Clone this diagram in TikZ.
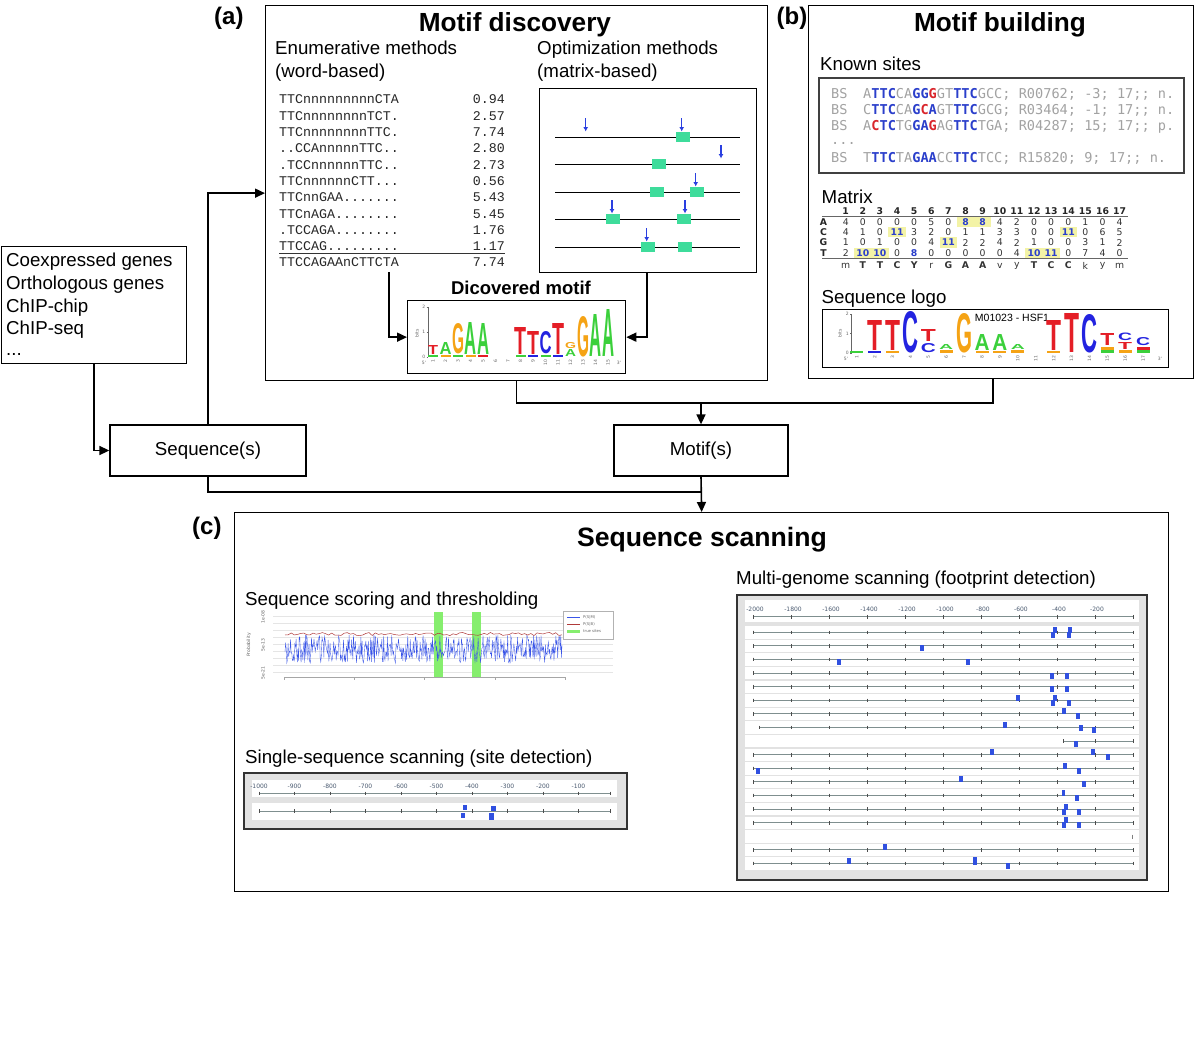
\documentclass[tikz,border=0pt]{standalone}
\usepackage{fontspec}
\setmainfont{Liberation Sans}
\newfontfamily\wlfont{Liberation Mono}
\newfontfamily\ksfont{DejaVu Sans Mono}
\newfontfamily\mxfont{DejaVu Sans}
\usetikzlibrary{arrows.meta}
\newcommand\FS[1]{\fontsize{#1}{#1}\selectfont}
\definecolor{lgreen}{HTML}{3EDC9B}
\definecolor{arrblue}{HTML}{2A3FE0}
\definecolor{logoA}{HTML}{3BD03B}
\definecolor{logoC}{HTML}{2323E0}
\definecolor{logoG}{HTML}{F5A315}
\definecolor{logoT}{HTML}{E41E26}
\definecolor{ksblue}{HTML}{2B3FCB}
\definecolor{ksred}{HTML}{D9262C}
\definecolor{ksgray}{HTML}{A2A2A2}
\definecolor{hl}{HTML}{F3F3A6}
\definecolor{mxblue}{HTML}{2B3FCB}
\definecolor{panelbg}{HTML}{E2E2E2}
\definecolor{trackgray}{HTML}{7F8F8F}
\definecolor{siteblue}{HTML}{3050E0}
\definecolor{axlab}{HTML}{4A5A70}
\definecolor{bandgreen}{HTML}{86EE6E}
\definecolor{sigblue}{HTML}{3A55E8}
\definecolor{sigred}{HTML}{B03A3A}
\newcommand\LL[6]{\node[anchor=south,inner sep=0pt,text=#5] at (#1,#2) {\resizebox{#3pt}{#4pt}{\bfseries #6}};}
\newcommand\SL[5]{\fill[#5] ({#1-#3/2},{#2-#4}) rectangle ({#1+#3/2},#2);}
\newcommand\KB[1]{\textcolor{ksblue}{\bfseries #1}}
\newcommand\KR[1]{\textcolor{ksred}{\bfseries #1}}
\newcommand\HB[1]{\textcolor{mxblue}{\bfseries #1}}
\newcommand\hlc[2]{\fill[hl] ({845.7+17.12*(#1-1)-8.6},{#2-5.2}) rectangle ++(17.2,10.4);}
\newcommand\sqa[2]{\fill[siteblue] ({#1-1.8},{#2-5.5}) rectangle ({#1+1.8},{#2+0.5});}
\newcommand\sqb[2]{\fill[siteblue] ({#1-1.8},{#2-0.5}) rectangle ({#1+1.8},{#2+5.5});}
\newcommand\wrow[3]{%
  \node[wl, anchor=base west] at (279,{103.9+16.3*(#1-1)}) {#2};
  \node[wl, anchor=base east] at (505,{103.9+16.3*(#1-1)}) {#3};}
\newcommand\mgtrack[2]{% start x, y
  \fill[white] (745,{#2-6.2}) rectangle (1139,{#2+6.2});
  \draw[trackgray, line width=0.9pt] (#1,#2) -- (1133,#2);
  \foreach \m in {0,...,9} {\pgfmathsetmacro\tx{753.3+38*\m}
    \ifdim\tx pt<#1pt\relax\else\draw[black!70, line width=0.6pt] (\tx,{#2-1.8}) -- (\tx,{#2+1.8});\fi}
  \draw[black!70, line width=0.6pt] (#1,{#2-1.8}) -- (#1,{#2+1.8});
  \draw[black!70, line width=0.6pt] (1133,{#2-1.8}) -- (1133,{#2+1.8});}
\tikzset{
  panel/.style={draw, line width=1.3pt, inner sep=0pt, anchor=north west},
  flowbox/.style={draw, line width=1.3pt, inner sep=0pt, font=\FS{18.7}},
  conn/.style={line width=1.6pt},
  arr/.style={conn, -{Triangle[length=10pt,width=9pt]}},
  lab/.style={anchor=base west, inner sep=0pt, font=\FS{18.7}},
  head/.style={anchor=base, inner sep=0pt, font=\bfseries\FS{26.2}},
  plab/.style={anchor=base west, inner sep=0pt, font=\bfseries\FS{24}},
  wl/.style={inner sep=0pt, font=\wlfont\FS{13.3}, text=black!85},
  ks/.style={anchor=base west, inner sep=0pt, font=\ksfont\FS{13.6}, text=ksgray},
  mxv/.style={inner sep=0pt, font=\mxfont\FS{9.3}, text=black!80},
  mxh/.style={inner sep=0pt, font=\mxfont\bfseries\FS{9.3}, text=black!85},
  tiny/.style={inner sep=0pt, font=\mxfont\FS{4.5}, text=black!60},
  axl/.style={inner sep=0pt, font=\mxfont\FS{6}, text=axlab},
  optarr/.style={arrblue, line width=1.3pt, -{Latex[length=4.5pt,width=5pt]}},
}
\begin{document}
\begin{tikzpicture}[x=1pt,y=-1pt]
\useasboundingbox (0,0) rectangle (1200,1039);
\fill[white] (0,0) rectangle (1200,1039);

% ---------------- panels
\node[panel, minimum width=502pt, minimum height=375pt] (pa) at (265,5) {};
\node[panel, minimum width=385pt, minimum height=373pt] (pb) at (808,5) {};
\node[panel, minimum width=934pt, minimum height=379pt] (pc) at (234,512) {};
\node[plab] (la) at (214,24) {(a)};
\node[plab] (lb) at (776.5,24) {(b)};
\node[plab] (lc) at (192,534) {(c)};
\node[head] (ha) at (515,31.5) {Motif discovery};
\node[head] (hb) at (1000,31.5) {Motif building};
\node[head, font=\bfseries\FS{26.6}] (hc) at (702,546.5) {Sequence scanning};

% ---------------- flow boxes
\node[flowbox, minimum width=185pt, minimum height=117pt, anchor=north west] (src) at (1,246) {};
\node[lab] (s1) at (6,266.6) {Coexpressed genes};
\node[lab] (s2) at (6,289.4) {Orthologous genes};
\node[lab] (s3) at (6,312.2) {ChIP-chip};
\node[lab] (s4) at (6,334.8) {ChIP-seq};
\node[lab] (s5) at (6,355.5) {...};
\node[flowbox, minimum width=196pt, minimum height=51pt] (seq) at (208,450.5) {Sequence(s)};
\node[flowbox, minimum width=174pt, minimum height=51pt] (mot) at (701,450.5) {Motif(s)};
\coordinate (pbin) at (993,378);
\draw[arr] (src.south) |- (seq.west);
\draw[arr] (seq.north) |- (pa.west);
\draw[conn] (seq.south) |- (mot.south |- 0,492);
\draw[arr] (mot.south) -- (pc.north);
\draw[conn] (pa.south) |- (pbin |- 0,403) -- (pbin);
\draw[arr] (mot.north |- 0,403) -- (mot.north);

% ---------------- panel (a)
\node[lab] (en1) at (275,54.5) {Enumerative methods};
\node[lab] (en2) at (275,77) {(word-based)};
\node[lab] (op1) at (537,54.5) {Optimization methods};
\node[lab] (op2) at (537,77) {(matrix-based)};
\wrow{1}{TTCnnnnnnnnnCTA}{0.94}
\wrow{2}{TTCnnnnnnnnTCT.}{2.57}
\wrow{3}{TTCnnnnnnnnTTC.}{7.74}
\wrow{4}{..CCAnnnnnTTC..}{2.80}
\wrow{5}{.TCCnnnnnnTTC..}{2.73}
\wrow{6}{TTCnnnnnnCTT...}{0.56}
\wrow{7}{TTCnnGAA.......}{5.43}
\wrow{8}{TTCnAGA........}{5.45}
\wrow{9}{.TCCAGA........}{1.76}
\wrow{10}{TTCCAG.........}{1.17}
\wrow{11}{TTCCAGAAnCTTCTA}{7.74}
\draw[black!80, line width=0.8pt] (279,253.5) -- (505,253.5);
\coordinate (wlb) at (389,272);

\node[draw, line width=1.3pt, minimum width=217pt, minimum height=184pt, anchor=north west] (opt) at (539,88) {};
\foreach \y in {137,164,192,219,247} \draw[line width=1pt] (555,\y) -- (740,\y);
\foreach \x/\y in {682.7/137,658.7/164,657/192,697/192,613/219,684/219,648/247,684.7/247}
  \fill[lgreen] ({\x-7},{\y-5}) rectangle ({\x+7},{\y+5});
\foreach \x/\y in {585.7/137,681.7/137,721/164,695.7/192,612/219,685/219,646.7/247}
  \draw[optarr] (\x,{\y-19}) -- (\x,{\y-5.5});

\node[anchor=base, inner sep=0pt, font=\bfseries\FS{18.5}] (dmt) at (521,294.5) {Dicovered motif};
\node[draw, line width=1.3pt, minimum width=218pt, minimum height=73pt, anchor=north west] (logo) at (407,300) {};
\draw[arr] (wlb) |- (logo.west);
\draw[arr] (opt.south -| 647,0) |- (logo.east);
% logo 1
\draw[black!60, line width=0.4pt] (428,307) -- (428,357);
\foreach \b/\t in {357/0,332/1,307/2} {\draw[black!60, line width=0.4pt] (426.5,\b) -- (428,\b); \node[tiny, anchor=east] at (425.5,\b) {\t};}
\node[tiny, rotate=90] at (417,333) {bits};
\node[tiny] at (424,363) {5'};
\node[tiny] at (619,363) {3'};
\foreach \i in {1,...,15} \node[tiny, rotate=90, anchor=east] at ({433+12.5*(\i-1)},359.5) {\i};
\SL{433}{357}{10}{2}{logoA} \LL{433}{354.5}{10}{9}{logoT}{T}
\SL{445.5}{357}{10}{2}{logoG} \LL{445.5}{354.5}{12}{12}{logoA}{A}
\SL{458}{357}{10}{2}{logoA} \LL{458}{354.5}{12}{30}{logoG}{G}
\SL{470.5}{357}{10}{2}{logoG} \LL{470.5}{354.5}{12}{32}{logoA}{A}
\SL{483}{357}{10}{2}{logoT} \LL{483}{354.5}{12}{31}{logoA}{A}
\SL{520.5}{357}{10}{2}{logoA} \LL{520.5}{354.5}{12}{27}{logoT}{T}
\SL{533}{357}{10}{2}{logoC} \LL{533}{354.5}{12}{23}{logoT}{T}
\SL{545.5}{357}{10}{2}{logoA} \LL{545.5}{354.5}{12}{22}{logoC}{C}
\SL{558}{357}{10}{2}{logoC} \LL{558}{354.5}{12}{31}{logoT}{T}
\LL{570.5}{357}{11}{7}{logoA}{A} \LL{570.5}{348.8}{11}{6}{logoG}{G}
\LL{583}{357}{12}{40}{logoG}{G}
\LL{595.5}{357}{12}{42}{logoA}{A}
\LL{608}{357}{12}{47}{logoA}{A}

% ---------------- panel (b)
\node[lab] (kst) at (820,70.5) {Known sites};
\node[draw=black!75, line width=1.5pt, minimum width=365pt, minimum height=95pt, anchor=north west] (ksb) at (818,77) {};
\node[ks] at (831,98) {BS};
\node[ks] at (863,98) {A\KB{TTC}CA\KB{GG}\KR{G}GT\KB{TTC}GCC; R00762; -3; 17;; n.};
\node[ks] at (831,114) {BS};
\node[ks] at (863,114) {C\KB{TTC}CA\KB{G}\KR{C}\KB{A}GT\KB{TTC}GCG; R03464; -1; 17;; n.};
\node[ks] at (831,130) {BS};
\node[ks] at (863,130) {A\KR{C}\KB{TC}TG\KB{GA}\KR{G}AG\KB{TTC}TGA; R04287; 15; 17;; p.};
\node[ks] at (831,144) {...};
\node[ks] at (831,162) {BS};
\node[ks] at (863,162) {T\KB{TTC}TA\KB{GAA}CC\KB{TTC}TCC; R15820; 9; 17;; n.};

\node[lab] (mxt) at (821.5,203) {Matrix};
\hlc{8}{221.7}\hlc{9}{221.7}\hlc{4}{232.2}\hlc{14}{232.2}\hlc{7}{242.6}
\hlc{2}{253}\hlc{3}{253}\hlc{12}{253}\hlc{13}{253}
\draw[black!60, line width=1pt] (822,216.3) -- (1128,216.3);
\draw[black!60, line width=1pt] (822,258.6) -- (1128,258.6);
\foreach \j in {1,...,17} \node[mxh] at ({845.7+17.12*(\j-1)},211.3) {\j};
\foreach \l/\y in {A/221.7,C/232.2,G/242.6,T/253} \node[mxh] at (823.5,\y) {\l};
\foreach \v [count=\j] in {4,0,0,0,0,5,0,\HB{8},\HB{8},4,2,0,0,0,1,0,4}
  \node[mxv] at ({845.7+17.12*(\j-1)},221.7) {\v};
\foreach \v [count=\j] in {4,1,0,\HB{11},3,2,0,1,1,3,3,0,0,\HB{11},0,6,5}
  \node[mxv] at ({845.7+17.12*(\j-1)},232.2) {\v};
\foreach \v [count=\j] in {1,0,1,0,0,4,\HB{11},2,2,4,2,1,0,0,3,1,2}
  \node[mxv] at ({845.7+17.12*(\j-1)},242.6) {\v};
\foreach \v [count=\j] in {2,\HB{10},\HB{10},0,\HB{8},0,0,0,0,0,4,\HB{10},\HB{11},0,7,4,0}
  \node[mxv] at ({845.7+17.12*(\j-1)},253) {\v};
\foreach \v [count=\j] in {m,\textbf{T},\textbf{T},\textbf{C},\textbf{Y},r,\textbf{G},\textbf{A},\textbf{A},v,y,\textbf{T},\textbf{C},\textbf{C},k,y,m}
  \node[mxv] at ({845.7+17.12*(\j-1)},265.5) {\v};

\node[lab] (slt) at (821.5,303.5) {Sequence logo};
\node[draw, line width=1.3pt, minimum width=346pt, minimum height=58pt, anchor=north west] (slogo) at (822,309) {};
\node[inner sep=0pt, font=\FS{10.5}] (sltitle) at (1012,317.5) {M01023 - HSF1};
\draw[black!60, line width=0.4pt] (851.5,314) -- (851.5,353);
\foreach \b/\t in {353/0,333.5/1,314/2} {\draw[black!60, line width=0.4pt] (850,\b) -- (851.5,\b); \node[tiny, anchor=east] at (849,\b) {\t};}
\node[tiny, rotate=90] at (840,333.5) {bits};
\node[tiny] at (846,359) {5'};
\node[tiny] at (1160,359) {3'};
\foreach \i in {1,...,17} \node[tiny, rotate=90, anchor=east] at ({856.7+17.9*(\i-1)},355.5) {\i};
\SL{856.7}{353}{13}{2}{logoA}
\SL{874.6}{353}{13}{2}{logoC} \LL{874.6}{350.5}{15}{30}{logoT}{T}
\SL{892.5}{353}{13}{2}{logoG} \LL{892.5}{350.5}{15}{30}{logoT}{T}
\LL{910.4}{353}{16}{41}{logoC}{C}
\LL{928.3}{353}{15}{9}{logoC}{C} \LL{928.3}{341.3}{15}{12}{logoT}{T}
\SL{946.2}{353}{13}{3}{logoG} \LL{946.2}{349.5}{14}{5}{logoA}{A}
\LL{964.1}{353}{16}{39}{logoG}{G}
\SL{982}{353}{13}{2}{logoG} \LL{982}{350.5}{15}{16}{logoA}{A}
\SL{999.9}{353}{13}{2}{logoG} \LL{999.9}{350.5}{15}{16}{logoA}{A}
\SL{1017.8}{353}{13}{3}{logoG} \LL{1017.8}{349.5}{14}{5}{logoA}{A}
\SL{1053.6}{353}{13}{2}{logoG} \LL{1053.6}{350.5}{15}{30}{logoT}{T}
\LL{1071.5}{353}{15}{39}{logoT}{T}
\LL{1089.4}{353}{16}{38}{logoC}{C}
\SL{1107.3}{353}{13}{3}{logoA} \SL{1107.3}{350}{13}{3.5}{logoG} \LL{1107.3}{346}{14}{12}{logoT}{T}
\SL{1125.2}{353}{13}{3}{logoG} \LL{1125.2}{349.5}{14}{7}{logoT}{T} \LL{1125.2}{341}{14}{7.5}{logoC}{C}
\SL{1143.1}{353}{13}{3}{logoA} \SL{1143.1}{350}{13}{3.5}{logoT} \LL{1143.1}{346}{14}{8}{logoC}{C}

% ---------------- panel (c)
\node[lab] (sst) at (245,605.7) {Sequence scoring and thresholding};
\foreach \y in {616,623,630,637,644,651,658,665,672} \draw[black!10, line width=0.4pt] (273,\y) -- (613,\y);
\fill[bandgreen] (434,612) rectangle (443,677);
\fill[bandgreen] (472,612) rectangle (481,677);
\pgfmathsetseed{7}
\draw[sigblue, line width=0.35pt] plot[domain=285:562, samples=450] (\x,{649+14*rand});
\draw[sigred, line width=0.5pt] plot[domain=285:562, samples=90] (\x,{634+1.6*rand});
\draw[black!35, line width=0.5pt] (284,677) -- (565,677);
\foreach \x in {284,354,424,495,565} \draw[black!35, line width=0.5pt] (\x,677) -- (\x,680);
\foreach \y/\t in {617/1e-08,645/5e-13,673/5e-21} \node[tiny, rotate=90] at (263,\y) {\t};
\node[tiny, rotate=90] at (249,645) {Probability};
\node[draw=black!30, fill=white, line width=0.4pt, minimum width=50pt, minimum height=28pt, anchor=north west, inner sep=0pt] (leg) at (563,611) {};
\draw[sigblue, line width=0.8pt] (567,617) -- (580,617);
\draw[sigred, line width=0.8pt] (567,624) -- (580,624);
\draw[bandgreen, line width=3pt] (567,631) -- (580,631);
\node[tiny, anchor=west, font=\mxfont\FS{3.8}] at (583,617) {P(S|M)};
\node[tiny, anchor=west, font=\mxfont\FS{3.8}] at (583,624) {P(S|B)};
\node[tiny, anchor=west, font=\mxfont\FS{3.8}] at (583,631) {true sites};

\node[lab] (sgt) at (245,763) {Single-sequence scanning (site detection)};
\node[draw=black!80, fill=panelbg, line width=1.5pt, minimum width=383pt, minimum height=56pt, anchor=north west] (ssb) at (243,772) {};
\fill[white] (252,780) rectangle (617,797);
\fill[white] (252,803) rectangle (617,820);
\foreach \t [count=\m from 0] in {-1000,-900,-800,-700,-600,-500,-400,-300,-200,-100}
  \node[axl] at ({259+35.5*\m},786.3) {\t};
\foreach \yy in {793.3,811} {
  \draw[trackgray, line width=0.9pt] (259,\yy) -- (610,\yy);
  \foreach \m in {0,...,9} \draw[black!70, line width=0.6pt] ({259+35.5*\m},{\yy-1.8}) -- ({259+35.5*\m},{\yy+1.8});
  \draw[black!70, line width=0.6pt] (610,{\yy-1.8}) -- (610,{\yy+1.8});
}
\fill[siteblue] (462.7,805) rectangle (467.3,810.3);
\fill[siteblue] (460.7,812.5) rectangle (465.2,817.5);
\fill[siteblue] (491,806) rectangle (495.8,810.8);
\fill[siteblue] (488.8,813) rectangle (493.6,820);

\node[lab] (mgt) at (736,584.5) {Multi-genome scanning (footprint detection)};
\node[draw=black!80, fill=panelbg, line width=1.5pt, minimum width=410pt, minimum height=285pt, anchor=north west] (mgb) at (736,594) {};
\fill[white] (745,600) rectangle (1139,622);
\foreach \t [count=\m from 0] in {-2000,-1800,-1600,-1400,-1200,-1000,-800,-600,-400,-200}
  \node[axl] at ({755+38*\m},609) {\t};
\draw[trackgray, line width=0.9pt] (753,616.7) -- (1133,616.7);
\foreach \m in {0,...,9} \draw[black!70, line width=0.6pt] ({753.3+38*\m},614.9) -- ({753.3+38*\m},618.5);
\draw[black!70, line width=0.6pt] (1133,614.9) -- (1133,618.5);
\foreach \k in {0,1,2,3,4,5,6,9,10,11,12,13,14,16,17} {\pgfmathsetmacro\yk{632.3+13.6*\k}\mgtrack{753}{\yk}}
\mgtrack{759}{727.5}
\mgtrack{1063}{741.1}
\fill[white] (745,830.1) rectangle (1139,842.5);
\draw[black!50, line width=0.6pt] (1132.7,834.5) -- (1132.7,838.5);
% sites
\sqa{1055}{632.3}\sqb{1053}{632.3}\sqa{1070}{632.3}\sqb{1069}{632.3}
\sqb{921.7}{645.9}
\sqb{839}{659.5}\sqb{968}{659.5}
\sqb{1051.7}{673.1}\sqb{1067}{673.1}
\sqb{1051.7}{686.7}\sqb{1067}{686.7}
\sqa{1018}{700.3}\sqa{1055}{700.3}\sqb{1053}{700.3}\sqb{1069}{700.3}
\sqa{1064}{713.9}\sqb{1078}{713.9}
\sqa{1005}{727.5}\fill[siteblue] (1079.2,724.5) rectangle (1082.8,730.5);\sqb{1094}{727.5}
\sqb{1075.7}{741.1}
\sqa{992}{754.7}\sqa{1093}{754.7}\sqb{1107.7}{754.7}
\sqb{758}{768.3}\sqa{1065}{768.3}\sqb{1079}{768.3}
\sqa{960.7}{781.9}\sqb{1084}{781.9}
\sqa{1063.3}{795.5}\sqb{1077}{795.5}
\sqa{1065.7}{809.1}\sqb{1064}{809.1}\sqb{1079}{809.1}
\sqa{1065.7}{822.7}\sqb{1064}{822.7}\sqb{1079}{822.7}
\sqa{885}{849.9}
\sqa{849}{863.5}\fill[siteblue] (973.2,856.5) rectangle (976.8,864.5);\sqb{1008}{863.5}
\end{tikzpicture}
\end{document}
